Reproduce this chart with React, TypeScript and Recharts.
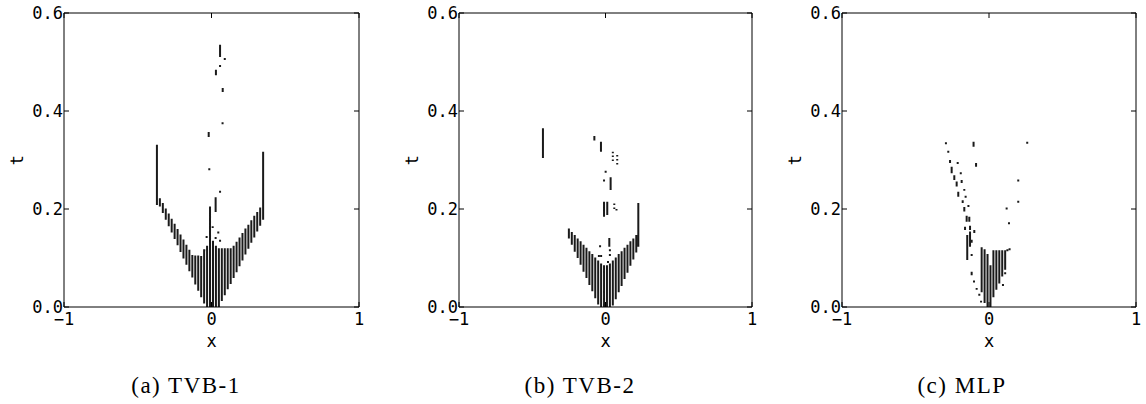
import React from 'react';
import { LineChart, Line, XAxis, YAxis } from 'recharts';

type Seg = [number, number, number];

// (a) TVB-1 : troubled cells, one column per cell
const tvb1BarX = [-0.35, -0.33, -0.31, -0.29, -0.27, -0.25, -0.23, -0.21, -0.19, -0.17, -0.15, -0.13, -0.11, -0.09, -0.07, -0.05, -0.03, -0.01,
  0.01, 0.03, 0.05, 0.07, 0.09, 0.11, 0.13, 0.15, 0.17, 0.19, 0.21, 0.23, 0.25, 0.27, 0.29, 0.31, 0.33, 0.35];
const tvb1BarLo = [0.205, 0.192, 0.178, 0.165, 0.152, 0.139, 0.126, 0.112, 0.099, 0.086, 0.073, 0.06, 0.046, 0.033, 0.02, 0.007, 0, 0,
  0, 0, 0, 0.012, 0.024, 0.036, 0.047, 0.059, 0.071, 0.083, 0.095, 0.107, 0.119, 0.131, 0.142, 0.154, 0.166, 0.178];
const tvb1BarHi = [0.222, 0.212, 0.201, 0.191, 0.18, 0.17, 0.159, 0.148, 0.138, 0.127, 0.117, 0.106, 0.105, 0.105, 0.104, 0.118, 0.125, 0.205,
  0.135, 0.125, 0.12, 0.12, 0.12, 0.12, 0.12, 0.125, 0.133, 0.142, 0.151, 0.16, 0.168, 0.177, 0.186, 0.194, 0.203, 0.212];
const tvb1Marks: Seg[] = [
  [-0.37, 0.208, 0.331], [0.35, 0.21, 0.317],
  [0.028, 0.194, 0.224], [0.058, 0.233, 0.237], [-0.015, 0.279, 0.283],
  [-0.019, 0.347, 0.357], [0.075, 0.373, 0.377], [0.076, 0.439, 0.447],
  [0.03, 0.473, 0.484], [0.058, 0.49, 0.494], [0.058, 0.51, 0.535], [0.09, 0.504, 0.508],
  [0.008, 0.161, 0.165], [0.046, 0.15, 0.154], [-0.033, 0.141, 0.145],
  [0.028, 0.139, 0.143], [0.058, 0.133, 0.137], [-0.049, 0.114, 0.118],
];

// (b) TVB-2
const tvb2BarX = [-0.25, -0.23, -0.21, -0.19, -0.17, -0.15, -0.13, -0.11, -0.09, -0.07, -0.05, -0.03, -0.01,
  0.01, 0.03, 0.05, 0.07, 0.09, 0.11, 0.13, 0.15, 0.17, 0.19, 0.21];
const tvb2BarLo = [0.14, 0.127, 0.113, 0.1, 0.086, 0.072, 0.059, 0.045, 0.032, 0.018, 0.005, 0, 0,
  0, 0, 0.003, 0.016, 0.03, 0.043, 0.057, 0.07, 0.084, 0.097, 0.111];
const tvb2BarHi = [0.16, 0.153, 0.147, 0.14, 0.134, 0.127, 0.121, 0.114, 0.108, 0.101, 0.095, 0.089, 0.085,
  0.085, 0.089, 0.095, 0.101, 0.108, 0.114, 0.121, 0.127, 0.134, 0.14, 0.147];
const tvb2Marks: Seg[] = [
  [-0.427, 0.304, 0.365], [0.224, 0.123, 0.212],
  [-0.076, 0.34, 0.349], [-0.031, 0.317, 0.337],
  [0.05, 0.314, 0.317], [0.05, 0.306, 0.309], [0.05, 0.298, 0.301],
  [0.08, 0.307, 0.31], [0.08, 0.299, 0.302], [0.08, 0.291, 0.294],
  [0.001, 0.274, 0.278], [-0.01, 0.256, 0.26], [0.035, 0.239, 0.265],
  [-0.01, 0.184, 0.215], [0.012, 0.188, 0.215],
  [0.06, 0.208, 0.211], [0.06, 0.2, 0.203], [0.075, 0.197, 0.2],
  [-0.037, 0.122, 0.126], [0.026, 0.123, 0.141], [0.03, 0.114, 0.118],
  [-0.045, 0.102, 0.106], [-0.03, 0.102, 0.106], [0.03, 0.104, 0.108], [0.017, 0.09, 0.094],
];

// (c) MLP
const mlpBarX = [-0.05, -0.03, -0.01, 0.01, 0.03, 0.05, 0.07, 0.09, 0.11];
const mlpBarLo = [0.03, 0.008, 0, 0, 0.02, 0.035, 0.048, 0.062, 0.076];
const mlpBarHi = [0.122, 0.118, 0.108, 0.085, 0.116, 0.116, 0.116, 0.116, 0.116];
const mlpMarks: Seg[] = [
  [-0.293, 0.332, 0.336], [-0.277, 0.315, 0.319], [-0.265, 0.294, 0.3], [-0.254, 0.273, 0.286],
  [-0.213, 0.292, 0.296], [-0.236, 0.259, 0.269], [-0.192, 0.271, 0.275], [-0.22, 0.246, 0.256],
  [-0.186, 0.253, 0.259], [-0.209, 0.225, 0.235], [-0.168, 0.237, 0.241], [-0.179, 0.212, 0.218],
  [-0.159, 0.223, 0.227], [-0.168, 0.195, 0.204], [-0.14, 0.204, 0.208], [-0.152, 0.174, 0.186],
  [-0.134, 0.174, 0.184], [-0.163, 0.157, 0.164], [-0.129, 0.157, 0.166], [-0.148, 0.096, 0.147],
  [-0.129, 0.123, 0.154], [-0.118, 0.131, 0.137], [-0.1, 0.151, 0.157], [-0.118, 0.104, 0.108],
  [-0.118, 0.065, 0.072], [-0.102, 0.05, 0.054], [-0.084, 0.035, 0.039], [-0.066, 0.023, 0.027],
  [-0.054, 0.009, 0.013], [-0.105, 0.327, 0.337], [-0.088, 0.286, 0.294],
  [0.26, 0.333, 0.337], [0.199, 0.256, 0.26], [0.199, 0.213, 0.217], [0.12, 0.199, 0.203],
  [0.136, 0.169, 0.173], [0.125, 0.114, 0.118], [0.14, 0.116, 0.12], [0.11, 0.067, 0.071],
  [0.095, 0.043, 0.047],
];

const xTicks = [-1, 0, 1];
const tTicks = [0, 0.2, 0.4, 0.6];

const MONO = '"DejaVu Sans Mono", monospace';
const SERIF = '"Liberation Serif", "DejaVu Serif", serif';

// turn columns into a path with breaks between segments
function buildData(bx: number[], lo: number[], hi: number[], marks: Seg[]) {
  const out: { x: number; t: number | null }[] = [];
  const push = (x: number, a: number, b: number) => {
    out.push({ x, t: a }, { x, t: b }, { x, t: null });
  };
  bx.forEach((x, i) => push(x, lo[i], hi[i]));
  marks.forEach(([x, a, b]) => push(x, a, b));
  return out;
}

const fmtX = (v: number) => (v < 0 ? '\u2212' + Math.abs(v) : String(v));

const XTick = (props: any) => {
  const { x, y, payload, dir, label } = props;
  return (
    <g>
      <line x1={x} x2={x} y1={y} y2={y + dir * 5} stroke="#000" strokeWidth={1} />
      {label && (
        <text x={x} y={y + 18} textAnchor="middle" fontFamily={MONO} fontSize={17} fill="#000">
          {fmtX(payload.value)}
        </text>
      )}
    </g>
  );
};

const YTick = (props: any) => {
  const { x, y, payload, dir, label } = props;
  return (
    <g>
      <line x1={x} x2={x + dir * 5} y1={y} y2={y} stroke="#000" strokeWidth={1} />
      {label && (
        <text x={x - 1} y={y + 6} textAnchor="end" fontFamily={MONO} fontSize={17} fill="#000">
          {payload.value.toFixed(1)}
        </text>
      )}
    </g>
  );
};

interface PanelProps {
  left: number;
  plotW: number;
  data: { x: number; t: number | null }[];
}

// axes need a size of at least 1px, so the margins are 1px smaller
const Panel: React.FC<PanelProps> = ({ left, plotW, data }) => (
  <div style={{ position: 'absolute', left: left - 64, top: 0 }}>
    <LineChart width={plotW + 74} height={404} data={data} margin={{ top: 12, left: 63, right: 9, bottom: 96 }}>
      <XAxis dataKey="x" type="number" domain={[-1, 1]} ticks={xTicks} interval={0} height={1}
        tickSize={0} tickMargin={0} tickLine={false} axisLine={{ stroke: '#000' }}
        tick={<XTick dir={-1} label />} allowDataOverflow />
      <XAxis xAxisId="top" orientation="top" dataKey="x" type="number" domain={[-1, 1]} ticks={xTicks} interval={0} height={1}
        tickSize={0} tickMargin={0} tickLine={false} axisLine={{ stroke: '#000' }}
        tick={<XTick dir={1} />} allowDataOverflow />
      <YAxis type="number" domain={[0, 0.6]} ticks={tTicks} interval={0} width={1}
        tickSize={0} tickMargin={0} tickLine={false} axisLine={{ stroke: '#000' }}
        tick={<YTick dir={1} label />} allowDataOverflow />
      <YAxis yAxisId="right" orientation="right" type="number" domain={[0, 0.6]} ticks={tTicks} interval={0} width={1}
        tickSize={0} tickMargin={0} tickLine={false} axisLine={{ stroke: '#000' }}
        tick={<YTick dir={-1} />} allowDataOverflow />
      <Line dataKey="t" type="linear" stroke="#1a1a1a" strokeWidth={2} strokeLinecap="butt"
        dot={false} activeDot={false} connectNulls={false} isAnimationActive={false} />
    </LineChart>
  </div>
);

const panels = [
  { left: 64, plotW: 295, data: buildData(tvb1BarX, tvb1BarLo, tvb1BarHi, tvb1Marks), caption: '(a) TVB-1', capX: 186 },
  { left: 459, plotW: 293, data: buildData(tvb2BarX, tvb2BarLo, tvb2BarHi, tvb2Marks), caption: '(b) TVB-2', capX: 580 },
  { left: 842, plotW: 294, data: buildData(mlpBarX, mlpBarLo, mlpBarHi, mlpMarks), caption: '(c) MLP', capX: 962 },
];

export default function App() {
  return (
    <div style={{ position: 'fixed', left: 0, top: 0, width: 1146, height: 404, background: '#fff' }}>
      {panels.map((p) => (
        <Panel key={p.caption} left={p.left} plotW={p.plotW} data={p.data} />
      ))}
      <svg width={1146} height={404} style={{ position: 'absolute', left: 0, top: 0, pointerEvents: 'none' }}>
        {panels.map((p) => (
          <g key={p.caption}>
            <text x={p.left + p.plotW / 2} y={347} textAnchor="middle" fontFamily={MONO} fontSize={17}>x</text>
            <text x={p.left - 41} y={160} textAnchor="middle" fontFamily={MONO} fontSize={17}
              transform={`rotate(-90 ${p.left - 41} 160)`}>t</text>
            <text x={p.capX} y={393} textAnchor="middle" fontFamily={SERIF} fontSize={23}
              letterSpacing="1.5px">{p.caption}</text>
          </g>
        ))}
      </svg>
    </div>
  );
}
